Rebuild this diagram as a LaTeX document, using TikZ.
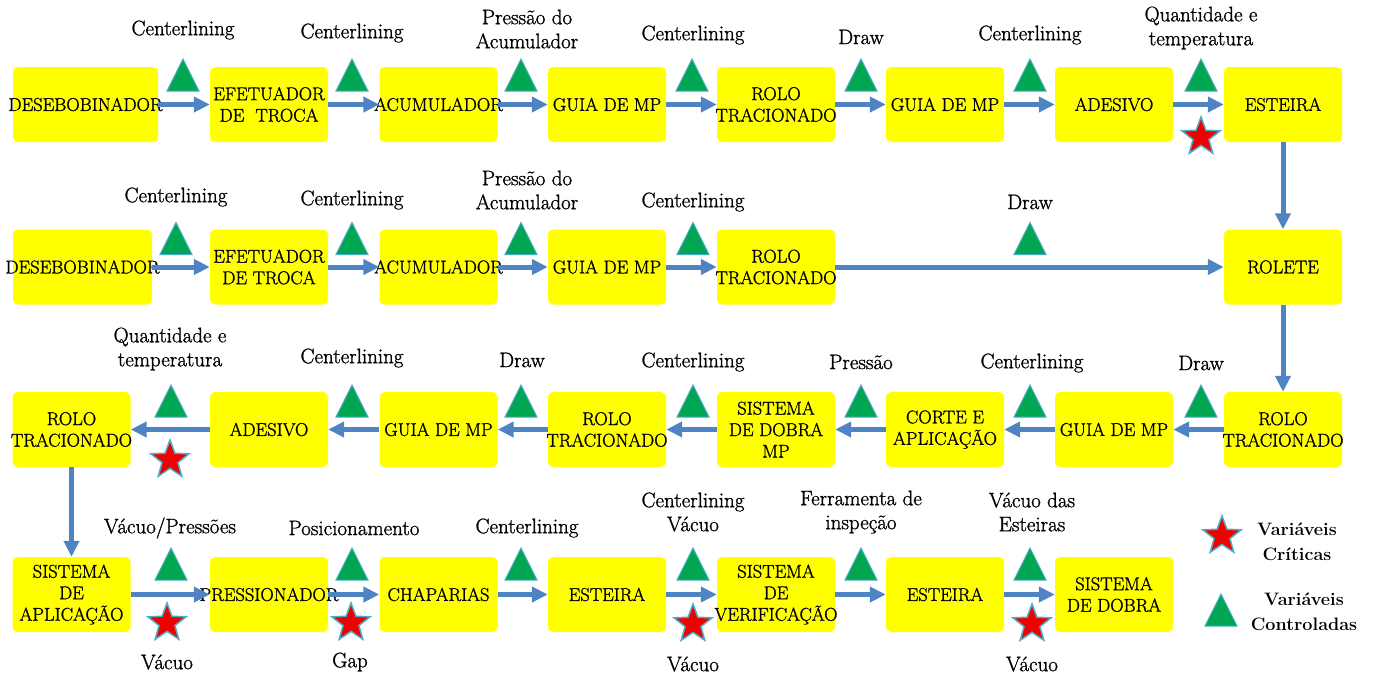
\documentclass[tikz,border=0pt]{standalone}
\usepackage{fontspec}
\setmainfont{Latin Modern Roman}[UprightFeatures={FakeBold=1.2}]
\usetikzlibrary{arrows.meta,shapes.geometric}
\definecolor{boxyellow}{RGB}{255,255,0}
\definecolor{trigreen}{RGB}{0,166,81}
\definecolor{flowblue}{RGB}{79,132,196}
\definecolor{edgeblue}{RGB}{75,172,198}
\definecolor{starred}{RGB}{240,0,0}
\begin{document}
\begin{tikzpicture}[x=1pt,y=-1pt,
  box/.style={fill=boxyellow, rounded corners=5pt, minimum width=118pt, minimum height=75pt,
    inner sep=0pt, label={[boxtxt]center:{#1}}},
  boxtxt/.style={align=center, inner sep=0pt, font=\fontsize{18.5}{21.5}\selectfont},
  lab/.style={align=center, inner sep=0pt, font=\fontsize{21}{24}\selectfont},
  leg/.style={align=center, inner sep=0pt, font=\fontsize{18}{25}\selectfont\bfseries},
  flow/.style={draw=flowblue, line width=5pt, -{Triangle[length=16pt,width=15pt]}},
  crit/.style={star, star points=5, star point ratio=2.4, minimum size=40pt, fill=starred,
    draw=edgeblue, line width=1.5pt, inner sep=0pt},
  ctrl/.pic={\path[fill=trigreen, draw=edgeblue, line width=1pt] (-16,16) -- (0,-16) -- (16,16) -- cycle;}
]
\useasboundingbox (0,0) rectangle (1374,675);

% ---------- Row 1 ----------
\node[box={DESEBOBINADOR}, minimum width=145pt] (r1a) at (85.5,104.5) {};
\node[box={EFETUADOR\\DE~~TROCA}] (r1b) at (269,104.5) {};
\node[box={ACUMULADOR}] (r1c) at (438.5,104.5) {};
\node[box={GUIA DE MP}] (r1d) at (607,104.5) {};
\node[box={ROLO\\TRACIONADO}] (r1e) at (776,104.5) {};
\node[box={GUIA DE MP}] (r1f) at (945,104.5) {};
\node[box={ADESIVO}] (r1g) at (1114,104.5) {};
\node[box={ESTEIRA}] (r1h) at (1283,104.5) {};

% ---------- Row 2 ----------
\node[box={DESEBOBINADOR}, minimum width=139pt] (r2a) at (82.5,267) {};
\node[box={EFETUADOR\\DE TROCA}] (r2b) at (269,267) {};
\node[box={ACUMULADOR}] (r2c) at (438.5,267) {};
\node[box={GUIA DE MP}] (r2d) at (607,267) {};
\node[box={ROLO\\TRACIONADO}] (r2e) at (776,267) {};
\node[box={ROLETE}] (r2h) at (1283,267) {};

% ---------- Row 3 ----------
\node[box={ROLO\\TRACIONADO}] (r3a) at (71.5,429.5) {};
\node[box={ADESIVO}] (r3b) at (269,429.5) {};
\node[box={GUIA DE MP}] (r3c) at (438.5,429.5) {};
\node[box={ROLO\\TRACIONADO}] (r3d) at (607,429.5) {};
\node[box={SISTEMA\\DE DOBRA\\MP}] (r3e) at (776,429.5) {};
\node[box={CORTE E\\APLICAÇÃO}] (r3f) at (945,429.5) {};
\node[box={GUIA DE MP}] (r3g) at (1114,429.5) {};
\node[box={ROLO\\TRACIONADO}] (r3h) at (1283,429.5) {};

% ---------- Row 4 ----------
\node[box={SISTEMA\\DE\\APLICAÇÃO}] (r4a) at (71.5,594.5) {};
\node[box={PRESSIONADOR}] (r4b) at (269,594.5) {};
\node[box={CHAPARIAS}] (r4c) at (438.5,594.5) {};
\node[box={ESTEIRA}] (r4d) at (607,594.5) {};
\node[box={SISTEMA\\DE\\VERIFICAÇÃO}] (r4e) at (776,594.5) {};
\node[box={ESTEIRA}] (r4f) at (945,594.5) {};
\node[box={SISTEMA\\DE DOBRA}] (r4g) at (1114,594.5) {};

% ---------- Connectors ----------
\draw[flow] (r1a.east) -- (r1b.west);
\draw[flow] (r1b.east) -- (r1c.west);
\draw[flow] (r1c.east) -- (r1d.west);
\draw[flow] (r1d.east) -- (r1e.west);
\draw[flow] (r1e.east) -- (r1f.west);
\draw[flow] (r1f.east) -- (r1g.west);
\draw[flow] (r1g.east) -- (r1h.west);
\draw[flow] (r1h.south) -- (r2h.north);

\draw[flow] (r2a.east) -- (r2b.west);
\draw[flow] (r2b.east) -- (r2c.west);
\draw[flow] (r2c.east) -- (r2d.west);
\draw[flow] (r2d.east) -- (r2e.west);
\draw[flow] (r2e.east) -- (r2h.west);
\draw[flow] (r2h.south) -- (r3h.north);

\draw[flow] (r3h.west) -- (r3g.east);
\draw[flow] (r3g.west) -- (r3f.east);
\draw[flow] (r3f.west) -- (r3e.east);
\draw[flow] (r3e.west) -- (r3d.east);
\draw[flow] (r3d.west) -- (r3c.east);
\draw[flow] (r3c.west) -- (r3b.east);
\draw[flow] (r3b.west) -- (r3a.east);
\draw[flow] (r3a.south) -- (r4a.north);

\draw[flow] (r4a.east) -- (r4b.west);
\draw[flow] (r4b.east) -- (r4c.west);
\draw[flow] (r4c.east) -- (r4d.west);
\draw[flow] (r4d.east) -- (r4e.west);
\draw[flow] (r4e.east) -- (r4f.west);
\draw[flow] (r4f.east) -- (r4g.west);

% ---------- Row 1 markers & labels ----------
\pic at (183,75) {ctrl};
\pic at (352,75) {ctrl};
\pic at (521,75) {ctrl};
\pic at (692,75) {ctrl};
\pic at (861,75) {ctrl};
\pic at (1030,75) {ctrl};
\pic at (1201,75) {ctrl};
\node[crit] (s1) at (1201,137) {};
\node[lab] (l11) at (183,30) {Centerlining};
\node[lab] (l12) at (352,33) {Centerlining};
\node[lab] (l13) at (527,29) {Pressão do\\Acumulador};
\node[lab] (l14) at (693,35) {Centerlining};
\node[lab] (l15) at (861,37) {Draw};
\node[lab] (l16) at (1030,35) {Centerlining};
\node[lab] (l17) at (1201,28) {Quantidade e\\temperatura};

% ---------- Row 2 markers & labels ----------
\pic at (176,238.5) {ctrl};
\pic at (352,238.5) {ctrl};
\pic at (521,238.5) {ctrl};
\pic at (693,238.5) {ctrl};
\pic at (1030,238.5) {ctrl};
\node[lab] (l21) at (176,197) {Centerlining};
\node[lab] (l22) at (352,200) {Centerlining};
\node[lab] (l23) at (527,190) {Pressão do\\Acumulador};
\node[lab] (l24) at (693,202) {Centerlining};
\node[lab] (l25) at (1030,202) {Draw};

% ---------- Row 3 markers & labels ----------
\pic at (171,401) {ctrl};
\pic at (352,401) {ctrl};
\pic at (521,401) {ctrl};
\pic at (693,401) {ctrl};
\pic at (861,401) {ctrl};
\pic at (1030,401) {ctrl};
\pic at (1201,401) {ctrl};
\node[crit] (s3) at (170,460) {};
\node[lab] (l31) at (170,349) {Quantidade e\\temperatura};
\node[lab] (l32) at (352,358) {Centerlining};
\node[lab] (l33) at (522,360) {Draw};
\node[lab] (l34) at (693,362) {Centerlining};
\node[lab] (l35) at (861,362) {Pressão};
\node[lab] (l36) at (1032,363) {Centerlining};
\node[lab] (l37) at (1201,363) {Draw};

% ---------- Row 4 markers & labels ----------
\pic at (171,564) {ctrl};
\pic at (352,564) {ctrl};
\pic at (521,564) {ctrl};
\pic at (693,564) {ctrl};
\pic at (861,564) {ctrl};
\pic at (1030,564) {ctrl};
\node[crit] (s41) at (167,623) {};
\node[crit] (s42) at (351,623) {};
\node[crit] (s43) at (693,624) {};
\node[crit] (s44) at (1032,624) {};
\node[lab] (l41) at (170,528) {Vácuo/Pressões};
\node[lab] (l42) at (354,528) {Posicionamento};
\node[lab] (l43) at (527,528) {Centerlining};
\node[lab] (l44) at (693,512) {Centerlining\\Vácuo};
\node[lab] (l45) at (861,512) {Ferramenta de\\inspeção};
\node[lab] (l46) at (1032,512) {Vácuo das\\Esteiras};
\node[lab] (b41) at (167,662) {Vácuo};
\node[lab] (b42) at (350,662) {Gap};
\node[lab] (b43) at (693,664) {Vácuo};
\node[lab] (b44) at (1032,664) {Vácuo};

% ---------- Legend ----------
\node[crit] (legs) at (1222,536) {};
\node[leg] (legst) at (1297,542) {Variáveis\\Críticas};
\pic at (1221,610) {ctrl};
\node[leg] (legtt) at (1304,612) {Variáveis\\Controladas};
\end{tikzpicture}
\end{document}
